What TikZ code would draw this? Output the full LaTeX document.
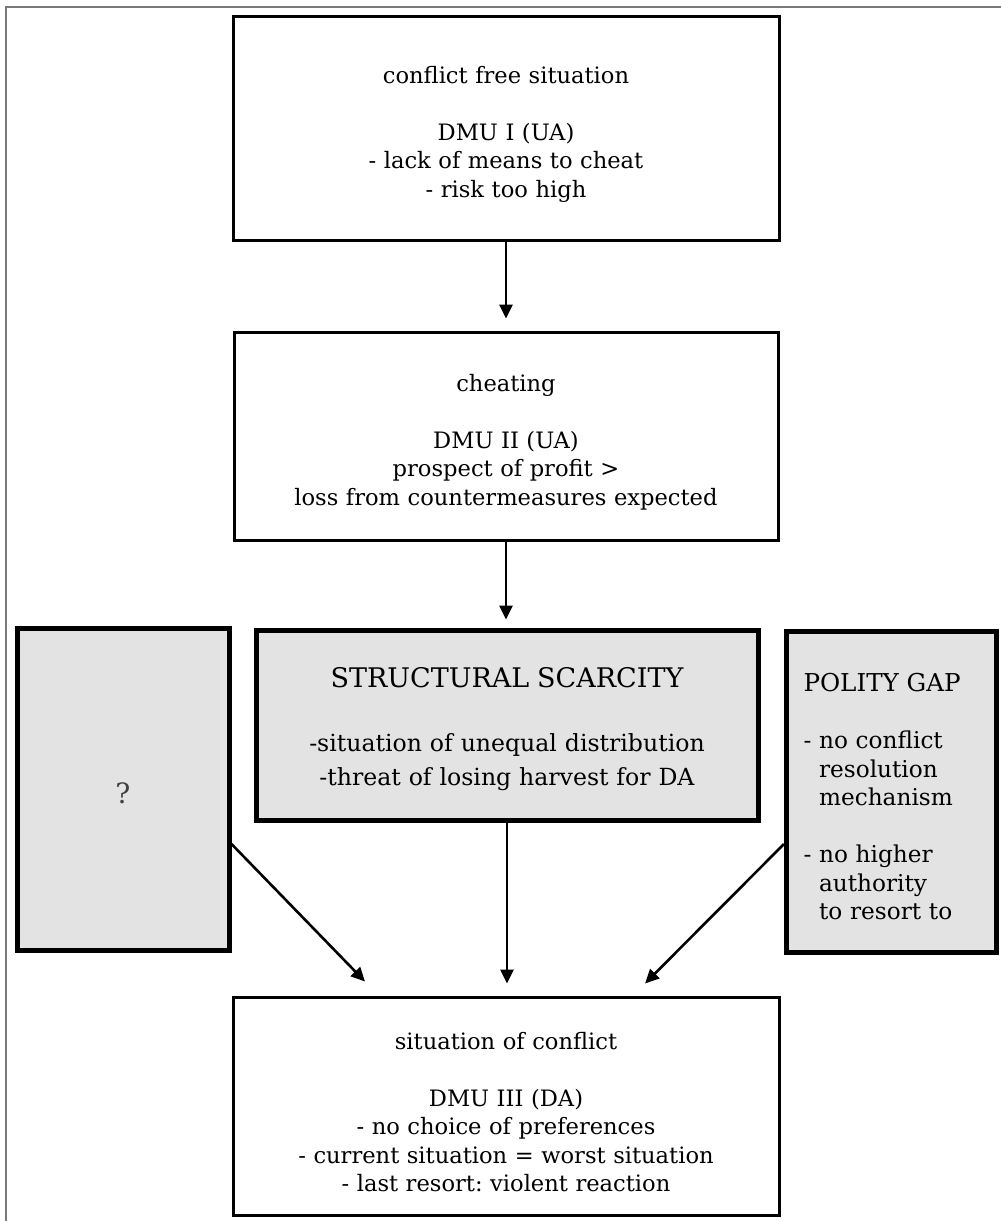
\documentclass[tikz,border=0pt]{standalone}
\usepackage{fontspec}
\setmainfont{DejaVu Serif}
\usetikzlibrary{arrows.meta}
\definecolor{boxgray}{HTML}{E3E3E3}
\definecolor{framegray}{HTML}{7A7A7A}
\newcommand\toplift{\rule{0pt}{14.6pt}}
\frenchspacing
\begin{document}
\begin{tikzpicture}[x=0.5pt,y=-0.5pt,
    box/.style={draw=black,line width=1.5pt,align=center,text width=250pt,inner sep=0pt,
      font=\fontsize{11.3}{14.25}\selectfont,execute at begin node=\toplift},
    graybox/.style={draw=black,line width=2.5pt,fill=boxgray,inner sep=0pt,
      execute at begin node=\toplift},
    flow/.style={line width=1.3pt,-{Triangle[length=7pt,width=6.5pt]}}]
    \useasboundingbox (0,0) rectangle (1001,1221);
    \draw [framegray,line width=1pt] (6,1221) -- (6,7) -- (1001,7);
    % chain in the middle
    \node [box,minimum width=273pt,minimum height=112pt] (free) at (506,128)
      {conflict free situation\\[14.25pt]DMU I (UA)\\- lack of means to cheat\\- risk too high};
    \node [box,minimum width=272pt,minimum height=104pt] (cheat) at (506,436)
      {cheating\\[14.25pt]DMU II (UA)\\prospect of profit >\\loss from countermeasures expected};
    \node [graybox,align=center,text width=240pt,minimum width=251pt,minimum height=95pt,
      font=\fontsize{11.8}{17}\selectfont] (scarcity) at (507,725)
      {{\fontsize{13.5}{17}\selectfont STRUCTURAL SCARCITY}\\[15pt]-situation of unequal distribution\\-threat of losing harvest for DA};
    \node [graybox,minimum width=106pt,minimum height=161pt,
      font=\fontsize{14}{17}\selectfont,text=black!75] (unknown) at (123,789) {?};
    \node [graybox,align=left,text width=88pt,inner xsep=8.5pt,minimum height=160.5pt,
      font=\fontsize{11.6}{14.25}\selectfont] (gap) at (891.5,791.5)
      {{\fontsize{12.3}{14.25}\selectfont POLITY GAP}\\[14.25pt]- no conflict\\\phantom{- }resolution\\\phantom{- }mechanism\\[14.25pt]- no higher\\\phantom{- }authority\\\phantom{- }to resort to};
    \node [box,minimum width=273pt,minimum height=109pt] (conflict) at (506,1106)
      {situation of conflict\\[14.25pt]DMU III (DA)\\- no choice of preferences\\- current situation = worst situation\\- last resort: violent reaction};
    \draw [flow,shorten >=6pt] (free) -- (cheat);
    \draw [flow,shorten >=4pt] (cheat.south) -- (cheat.south |- scarcity.north);
    \draw [flow,shorten >=6pt] (scarcity.south) -- (scarcity.south |- conflict.north);
    \draw [flow] ([yshift=-27.5pt]unknown.east) -- ([xshift=-70.5pt,yshift=7pt]conflict.north);
    \draw [flow] ([yshift=-26.25pt]gap.west) -- ([xshift=69.5pt,yshift=6pt]conflict.north);
\end{tikzpicture}
\end{document}
